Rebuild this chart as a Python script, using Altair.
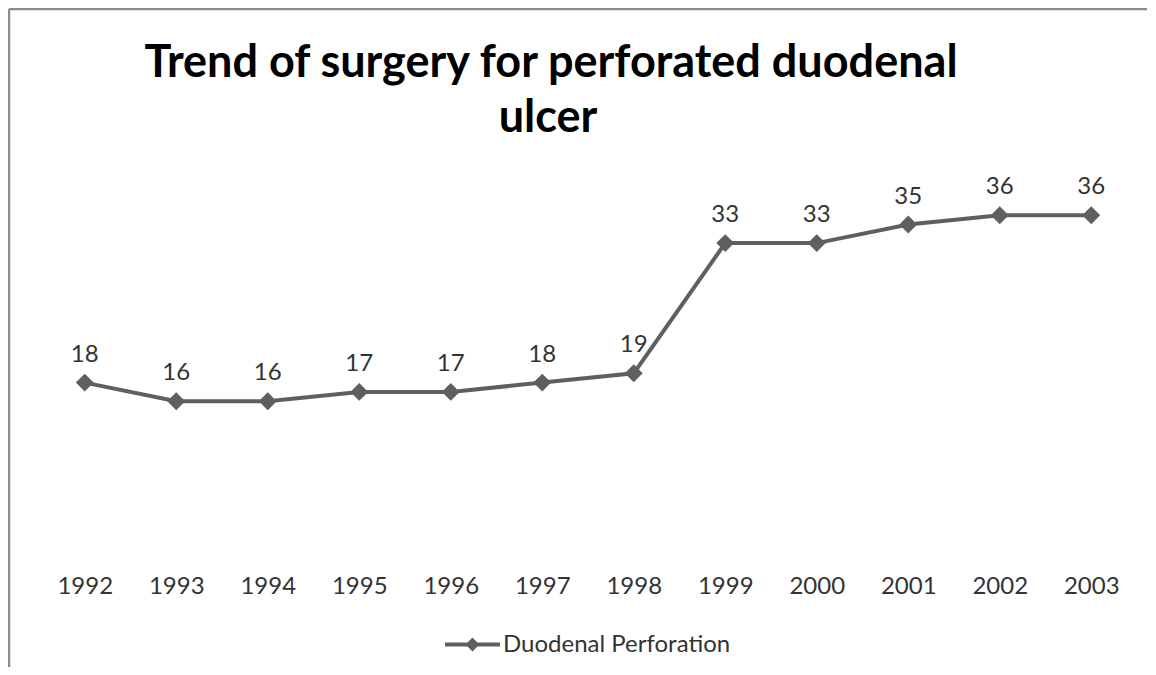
import altair as alt
import pandas as pd

years = ["1992", "1993", "1994", "1995", "1996", "1997", "1998", "1999", "2000", "2001", "2002", "2003"]
values = [18, 16, 16, 17, 17, 18, 19, 33, 33, 35, 36, 36]
series_name = "Duodenal Perforation"
title_line1 = "Trend of surgery for perforated duodenal"
title_line2 = "ulcer"

df = pd.DataFrame({"year": years, "value": values, "series": [series_name] * len(years)})

GRAY = "#5f5f5f"
FONT = "Lato"

x_enc = alt.X(
    "year:O",
    sort=years,
    scale=alt.Scale(type="point", padding=0.5),
    axis=alt.Axis(
        title=None, domain=False, ticks=False, tickSize=0, grid=False,
        labelAngle=0, labelFont=FONT, labelFontSize=24, labelColor="#333333",
        labelBaseline="alphabetic", labelPadding=43,
    ),
)
y_enc = alt.Y("value:Q", scale=alt.Scale(domain=[0, 40]), axis=None)
color_enc = alt.Color(
    "series:N",
    scale=alt.Scale(range=[GRAY]),
    legend=alt.Legend(
        title=None, orient="none", legendX=404, legendY=437, padding=0,
        symbolType="M-1,0L1,0M0,-0.15L0.15,0L0,0.15L-0.15,0Z",
        symbolSize=3025, symbolStrokeWidth=4, symbolFillColor=GRAY, symbolStrokeColor=GRAY,
        labelFont=FONT, labelFontSize=24, labelColor="#333333", labelOffset=1, labelLimit=600,
    ),
)

base = alt.Chart(df)
line = base.mark_line(strokeWidth=4).encode(x=x_enc, y=y_enc, color=color_enc)
pts = base.mark_point(shape="diamond", size=320, filled=True, opacity=1).encode(
    x=x_enc, y=y_enc, color=alt.Color("series:N", scale=alt.Scale(range=[GRAY]), legend=None)
)
labels = base.mark_text(
    dy=-21, baseline="alphabetic", font=FONT, fontSize=24, color="#333333"
).encode(x=x_enc, y=y_enc, text="value:Q")

t1 = alt.Chart(pd.DataFrame({"t": [title_line1]})).mark_text(
    font=FONT, fontSize=45, fontWeight="bold", color="#000000", baseline="alphabetic", align="center"
).encode(x=alt.value(512), y=alt.value(-101), text="t:N")
t2 = alt.Chart(pd.DataFrame({"t": [title_line2]})).mark_text(
    font=FONT, fontSize=45, fontWeight="bold", color="#000000", baseline="alphabetic", align="center"
).encode(x=alt.value(509), y=alt.value(-46), text="t:N")

frame_df = pd.DataFrame({"k": [0]})
left_border = alt.Chart(frame_df).mark_rule(color="#8c8c8c", strokeWidth=2.5).encode(
    x=alt.value(-30), y=alt.value(-169), y2=alt.value(500)
)
top_border = alt.Chart(frame_df).mark_rule(color="#8c8c8c", strokeWidth=2.5).encode(
    x=alt.value(-30), x2=alt.value(1117), y=alt.value(-169)
)

chart = alt.layer(left_border, top_border, line, pts, labels, t1, t2).properties(
    width=1098, height=372,
    padding={"left": 31, "top": 170, "right": 10, "bottom": 117},
    autosize=alt.AutoSizeParams(type="none"),
).configure(background="white").configure_view(strokeWidth=0, stroke="transparent")

chart.save("out.html", embed_options={"renderer": "svg", "actions": False})
